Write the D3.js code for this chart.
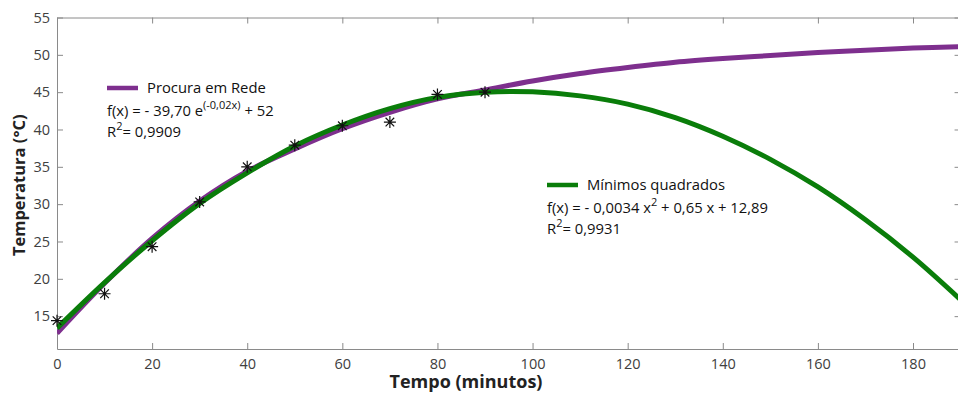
<!DOCTYPE html>
<html>
<head>
<meta charset="utf-8">
<script src="https://cdn.jsdelivr.net/npm/d3@7"></script>
<style>
  body { margin: 0; background: #fff; }
  svg { font-family: "Open Sans", sans-serif; }
</style>
</head>
<body>
<div id="chart"></div>
<script>
// measured points (Tempo in minutes, Temperatura in °C)
const tempo = [0, 10, 20, 30, 40, 50, 60, 70, 80, 90];
const temperatura = [14.4, 18.0, 24.3, 30.3, 35.0, 37.9, 40.5, 41.0, 44.7, 45.0];

// fitted curves, every 10 minutes
const curveX = [0, 10, 20, 30, 40, 50, 60, 70, 80, 90, 100, 110, 120, 130, 140, 150, 160, 170, 180, 190];
const procuraRede = [12.7, 19.4, 25.4, 30.4, 34.4, 37.4, 40.1, 42.3, 44.1, 45.3, 46.5, 47.5, 48.3, 49.0, 49.5, 49.9, 50.3, 50.6, 50.9, 51.1];
const minimosQuadrados = [13.4, 19.5, 25.1, 30.1, 34.2, 37.8, 40.6, 42.8, 44.3, 45.0, 45.05, 44.5, 43.4, 41.6, 39.1, 36.0, 32.3, 27.9, 22.9, 17.2];

const xTicks = [0, 20, 40, 60, 80, 100, 120, 140, 160, 180];
const yTicks = [15, 20, 25, 30, 35, 40, 45, 50, 55];

const width = 958, height = 394;
const plotLeft = 57, plotTop = 17.5, plotBottom = 349;

const svg = d3.select("#chart")
  .append("svg")
  .attr("width", width)
  .attr("height", height);

const x = d3.scaleLinear()
  .domain([0, 190])
  .range([plotLeft, plotLeft + 190 * 4.7556]);

const y = d3.scaleLinear()
  .domain([10.6, 55])
  .range([plotBottom, plotTop]);

const axisColor = "#8a8a8a";
const labelColor = "#404040";

function styleAxis(g) {
  g.selectAll("path").attr("stroke", axisColor);
  g.selectAll("line").attr("stroke", axisColor);
  g.selectAll("text")
    .attr("fill", labelColor)
    .style("font-size", "14.5px")
    .style("font-family", "'Open Sans', sans-serif");
}

svg.append("g")
  .attr("transform", `translate(0,${plotBottom})`)
  .call(d3.axisBottom(x).tickValues(xTicks).tickSize(-6).tickSizeOuter(0).tickPadding(10))
  .call(styleAxis);

svg.append("g")
  .attr("transform", `translate(0,${plotTop})`)
  .call(d3.axisTop(x).tickValues(xTicks).tickSize(-6).tickSizeOuter(0).tickFormat(""))
  .call(styleAxis);

svg.append("g")
  .attr("transform", `translate(${plotLeft},0)`)
  .call(d3.axisLeft(y).tickValues(yTicks).tickSize(-6).tickSizeOuter(0).tickPadding(7))
  .call(styleAxis);

svg.append("g")
  .attr("transform", `translate(${x(190)},0)`)
  .call(d3.axisRight(y).tickValues(yTicks).tickSize(-6).tickSizeOuter(0).tickFormat(""))
  .call(styleAxis);

svg.append("clipPath")
  .attr("id", "plot")
  .append("rect")
  .attr("x", plotLeft).attr("y", plotTop)
  .attr("width", x(190) - plotLeft).attr("height", plotBottom - plotTop);

const line = d3.line()
  .x(d => x(d[0]))
  .y(d => y(d[1]))
  .curve(d3.curveCatmullRom);

const purple = "#7e2f8e", green = "#0a7d0a";

svg.append("path")
  .datum(curveX.map((v, i) => [v, procuraRede[i]]))
  .attr("clip-path", "url(#plot)")
  .attr("fill", "none")
  .attr("stroke", purple)
  .attr("stroke-width", 5)
  .attr("d", line);

svg.append("path")
  .datum(curveX.map((v, i) => [v, minimosQuadrados[i]]))
  .attr("clip-path", "url(#plot)")
  .attr("fill", "none")
  .attr("stroke", green)
  .attr("stroke-width", 5)
  .attr("d", line);

// asterisk markers
const s = 6, dd = 4.3;
svg.selectAll("path.star")
  .data(tempo.map((v, i) => [v, temperatura[i]]))
  .enter()
  .append("path")
  .attr("class", "star")
  .attr("transform", d => `translate(${x(d[0])},${y(d[1])})`)
  .attr("d", `M${-s},0L${s},0M0,${-s}L0,${s}M${-dd},${-dd}L${dd},${dd}M${-dd},${dd}L${dd},${-dd}`)
  .attr("stroke", "#111")
  .attr("stroke-width", 1.2)
  .attr("fill", "none");

// axis titles
svg.append("text")
  .attr("x", 466)
  .attr("y", 388)
  .attr("text-anchor", "middle")
  .style("font-size", "18px")
  .style("font-weight", "bold")
  .attr("fill", "#222")
  .text("Tempo (minutos)");

svg.append("text")
  .attr("transform", `translate(25,${(plotTop + plotBottom) / 2 + 2}) rotate(-90)`)
  .attr("text-anchor", "middle")
  .style("font-size", "16.5px")
  .style("font-weight", "bold")
  .attr("fill", "#222")
  .text("Temperatura (°C)");

// legends
function legend(x0, yLine, name, color, formula, r2) {
  const g = svg.append("g").style("font-size", "14.8px").attr("fill", "#111");
  g.append("line")
    .attr("x1", x0).attr("x2", x0 + 31)
    .attr("y1", yLine).attr("y2", yLine)
    .attr("stroke", color).attr("stroke-width", 4.5);
  g.append("text").attr("x", x0 + 40).attr("y", yLine + 5).text(name);
  const f = g.append("text").attr("x", x0).attr("y", yLine + 28);
  formula.forEach(p => {
    if (p.sup) f.append("tspan").attr("dy", -7).style("font-size", "11px").text(p.t);
    else f.append("tspan").attr("dy", p.down ? 7 : 0).text(p.t);
  });
  const r = g.append("text").attr("x", x0).attr("y", yLine + 49);
  r.append("tspan").text("R");
  r.append("tspan").attr("dy", -7).style("font-size", "11px").text("2");
  r.append("tspan").attr("dy", 7).text("= " + r2);
}

legend(107, 88, "Procura em Rede", purple,
  [{t: "f(x) = - 39,70 e"}, {t: "(-0,02x)", sup: true}, {t: " + 52", down: true}], "0,9909");

legend(547, 185, "Mínimos quadrados", green,
  [{t: "f(x) = - 0,0034 x"}, {t: "2", sup: true}, {t: " + 0,65 x + 12,89", down: true}], "0,9931");
</script>
</body>
</html>
